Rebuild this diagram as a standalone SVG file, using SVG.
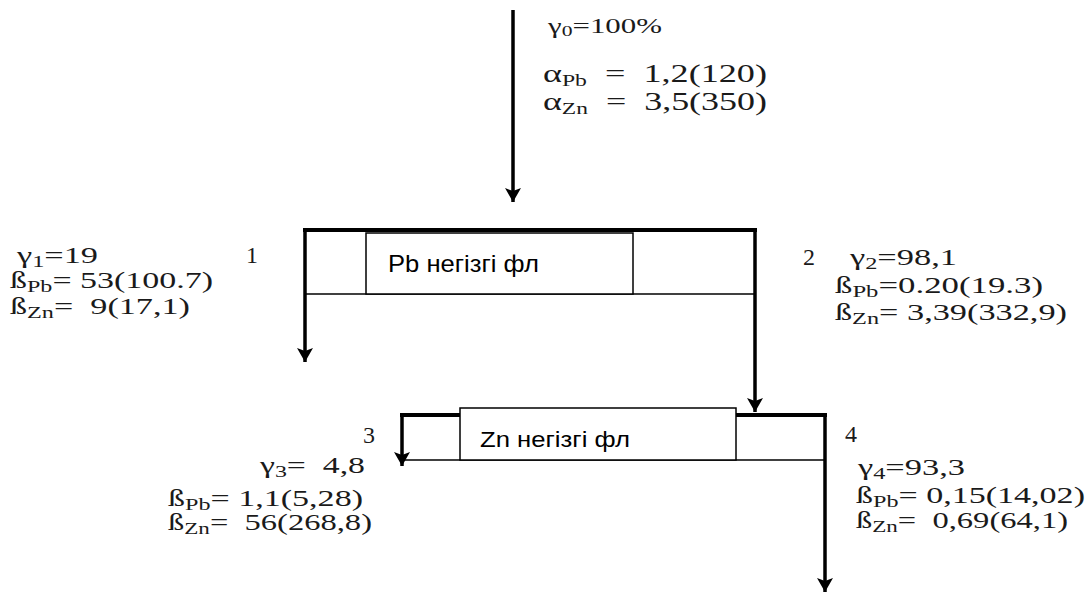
<svg xmlns="http://www.w3.org/2000/svg" width="1091" height="594" viewBox="0 0 1091 594">
<defs>
<marker id="ah" markerUnits="userSpaceOnUse" markerWidth="16" markerHeight="18" viewBox="0 0 16 18" refX="15" refY="9" orient="auto"><path d="M1,1 L15,9 L1,17 L4,9 Z" fill="#000"/></marker>
</defs>
<style>
.thick{stroke:#000;stroke-width:4;fill:none}
.vert{stroke:#000;stroke-width:3.5;fill:none}
.thin{stroke:#000;stroke-width:1.5;fill:none}
.box{fill:#fff;stroke:#000;stroke-width:1.5}
text{white-space:pre}
.lbl{font-family:"Liberation Serif","Times New Roman",serif;font-size:24px;fill:#1a1a1a}
.sm{font-size:17px}
.big{font-family:"Liberation Serif","Times New Roman",serif;font-size:26px;fill:#1a1a1a}
.op{font-family:"Liberation Sans","Noto Sans",Arial,sans-serif;fill:#000}
</style>
<g id="connectors">
<line x1="513" y1="10" x2="513" y2="202" class="vert" marker-end="url(#ah)"/>
<line x1="305" y1="229" x2="305" y2="362" class="vert" marker-end="url(#ah)"/>
<line x1="755" y1="229" x2="755" y2="412" class="vert" marker-end="url(#ah)"/>
<line x1="402" y1="414" x2="402" y2="466" class="vert" marker-end="url(#ah)"/>
<line x1="825" y1="414" x2="825" y2="592" class="vert" marker-end="url(#ah)"/>
</g>
<g id="op1">
<line x1="303" y1="230" x2="757" y2="230" class="thick"/>
<line x1="305" y1="294" x2="755" y2="294" class="thin"/>
<rect x="366" y="233" width="267" height="61" class="box"/>
<text x="388" y="272" class="op" font-size="24" textLength="151" lengthAdjust="spacingAndGlyphs">Pb негізгі фл</text>
</g>
<g id="op2">
<line x1="400" y1="415" x2="827" y2="415" class="thick"/>
<line x1="402" y1="460" x2="825" y2="460" class="thin"/>
<rect x="460" y="408" width="276" height="52" class="box"/>
<text x="480" y="447" class="op" font-size="22" textLength="150" lengthAdjust="spacingAndGlyphs">Zn негізгі фл</text>
</g>
<g id="feed">
<text x="548" y="33" class="lbl" style="font-size:20px" textLength="114" lengthAdjust="spacingAndGlyphs">γ<tspan dy="3" style="font-size:14px">0</tspan><tspan dy="-3">=100%</tspan></text>
<text x="543" y="82" class="big" textLength="224" lengthAdjust="spacingAndGlyphs">α<tspan dy="4" style="font-size:17px">Pb</tspan><tspan dy="-4">  =  1,2(120)</tspan></text>
<text x="543" y="110" class="big" textLength="224" lengthAdjust="spacingAndGlyphs">α<tspan dy="4" style="font-size:17px">Zn</tspan><tspan dy="-4">  =  3,5(350)</tspan></text>
</g>
<g id="out1">
<text x="246" y="263" class="lbl">1</text>
<text x="17" y="263" class="lbl" textLength="81" lengthAdjust="spacingAndGlyphs">γ<tspan class="sm" dy="4">1</tspan><tspan dy="-4">=19</tspan></text>
<text x="10" y="288" class="lbl" textLength="203" lengthAdjust="spacingAndGlyphs">ß<tspan class="sm" dy="4">Pb</tspan><tspan dy="-4">= 53(100.7)</tspan></text>
<text x="10" y="314" class="lbl" textLength="180" lengthAdjust="spacingAndGlyphs">ß<tspan class="sm" dy="4">Zn</tspan><tspan dy="-4">=  9(17,1)</tspan></text>
</g>
<g id="out2">
<text x="803" y="265" class="lbl">2</text>
<text x="850" y="265" class="lbl" textLength="107" lengthAdjust="spacingAndGlyphs">γ<tspan class="sm" dy="4">2</tspan><tspan dy="-4">=98,1</tspan></text>
<text x="835" y="293" class="lbl" textLength="208" lengthAdjust="spacingAndGlyphs">ß<tspan class="sm" dy="4">Pb</tspan><tspan dy="-4">=0.20(19.3)</tspan></text>
<text x="835" y="320" class="lbl" textLength="232" lengthAdjust="spacingAndGlyphs">ß<tspan class="sm" dy="4">Zn</tspan><tspan dy="-4">= 3,39(332,9)</tspan></text>
</g>
<g id="out3">
<text x="363" y="443" class="lbl">3</text>
<text x="260" y="473" class="lbl" textLength="105" lengthAdjust="spacingAndGlyphs">γ<tspan class="sm" dy="4">3</tspan><tspan dy="-4">=  4,8</tspan></text>
<text x="168" y="506" class="lbl" textLength="195" lengthAdjust="spacingAndGlyphs">ß<tspan class="sm" dy="4">Pb</tspan><tspan dy="-4">= 1,1(5,28)</tspan></text>
<text x="168" y="530" class="lbl" textLength="204" lengthAdjust="spacingAndGlyphs">ß<tspan class="sm" dy="4">Zn</tspan><tspan dy="-4">=  56(268,8)</tspan></text>
</g>
<g id="out4">
<text x="845" y="442" class="lbl">4</text>
<text x="858" y="475" class="lbl" textLength="107" lengthAdjust="spacingAndGlyphs">γ<tspan class="sm" dy="4">4</tspan><tspan dy="-4">=93,3</tspan></text>
<text x="856" y="503" class="lbl" textLength="229" lengthAdjust="spacingAndGlyphs">ß<tspan class="sm" dy="4">Pb</tspan><tspan dy="-4">= 0,15(14,02)</tspan></text>
<text x="856" y="528" class="lbl" textLength="212" lengthAdjust="spacingAndGlyphs">ß<tspan class="sm" dy="4">Zn</tspan><tspan dy="-4">=  0,69(64,1)</tspan></text>
</g>
</svg>
